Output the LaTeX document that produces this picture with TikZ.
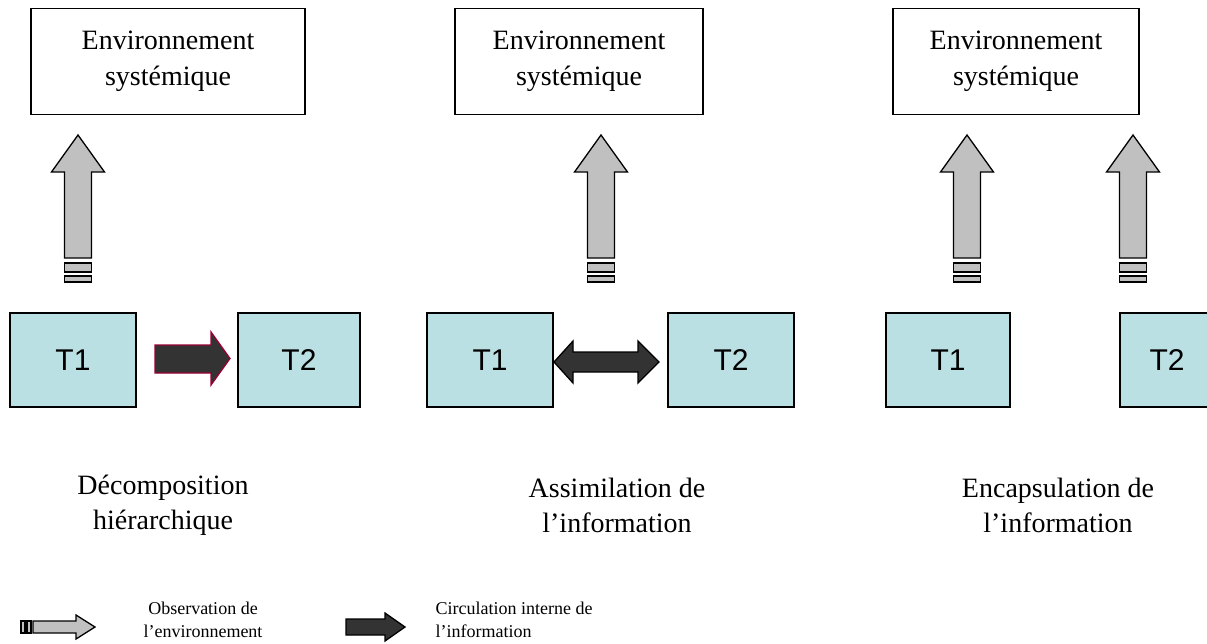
\documentclass[tikz,border=0pt]{standalone}
\usepackage{fontspec}
\setmainfont{Liberation Serif}
\newfontfamily\arialfont{Liberation Sans}
\definecolor{tfill}{RGB}{187,224,227}
\definecolor{agrey}{RGB}{192,192,192}
\definecolor{adark}{RGB}{51,51,51}
\definecolor{aredl}{RGB}{153,0,51}
\begin{document}
\begin{tikzpicture}[x=1pt,y=-1pt,
  envbox/.style={draw=black,line width=1.3pt,minimum width=#1,minimum height=106pt,align=center,font=\fontsize{28}{36}\selectfont,inner sep=0pt},
  tbox/.style={draw=black,line width=1.3pt,fill=tfill,minimum width=#1,minimum height=94pt,font=\arialfont\fontsize{30}{34}\selectfont,inner sep=0pt},
  captiontext/.style={align=center,font=\fontsize{28}{35}\selectfont},
  legtext/.style={align=#1,font=\fontsize{18}{23}\selectfont},
  obsarrow/.style={draw=black,line width=1.3pt,fill=agrey,line join=miter},
  darkarrow/.style={draw=#1,line width=1.3pt,fill=adark,line join=miter},
  obsup/.pic={
    \draw[obsarrow] (0,0) -- (26.5,37) -- (13.5,37) -- (13.5,123) -- (-13.5,123) -- (-13.5,37) -- (-26.5,37) -- cycle;
    \draw[obsarrow] (-13.5,128) rectangle (13.5,137);
    \draw[obsarrow] (-13.5,141) rectangle (13.5,147);
  }]
\useasboundingbox (0,0) rectangle (1207,643);

% environment boxes
\node[envbox=274pt] (env1) at (168,61.5) {Environnement\\systémique};
\node[envbox=248pt] (env2) at (579,61.5) {Environnement\\systémique};
\node[envbox=246pt] (env3) at (1016,61.5) {Environnement\\systémique};

% observation arrows
\pic at (78,135) {obsup};
\pic at (601,135) {obsup};
\pic at (967,135) {obsup};
\pic at (1133,135) {obsup};

% task boxes
\node[tbox=126pt] (t1a) at (73,360) {T1};
\node[tbox=122pt] (t2a) at (299,360) {T2};
\node[tbox=126pt] (t1b) at (490,360) {T1};
\node[tbox=126pt] (t2b) at (731,360) {T2};
\node[tbox=124pt] (t1c) at (948,360) {T1};
\node[tbox=94pt] (t2c) at (1167,360) {T2};

% internal circulation arrows
\draw[darkarrow=aredl] (155,345) -- (211,345) -- (211,332) -- (230,358.5) -- (211,385) -- (211,373) -- (155,373) -- cycle;
\draw[darkarrow=black] (554,362) -- (573,341) -- (573,352) -- (638,352) -- (638,341) -- (659,362) -- (638,383) -- (638,372) -- (573,372) -- (573,383) -- cycle;

% captions
\node[captiontext] (cap1) at (163,505) {Décomposition\\hiérarchique};
\node[captiontext] (cap2) at (617,505) {Assimilation de\\l’information};
\node[captiontext] (cap3) at (1058,505) {Encapsulation de\\l’information};

% legend
\draw[obsarrow] (21,621) rectangle (25,633);
\draw[obsarrow] (27,621) rectangle (31,633);
\draw[obsarrow] (33,621) -- (76,621) -- (76,615) -- (95,627) -- (76,639) -- (76,633) -- (33,633) -- cycle;
\node[legtext=center] (leg1) at (203,620) {Observation de\\l’environnement};
\draw[darkarrow=black] (346,619) -- (385,619) -- (385,613) -- (405,627) -- (385,641) -- (385,635) -- (346,635) -- cycle;
\node[legtext=left,anchor=west] (leg2) at (432,620) {Circulation interne de\\l’information};
\end{tikzpicture}
\end{document}
